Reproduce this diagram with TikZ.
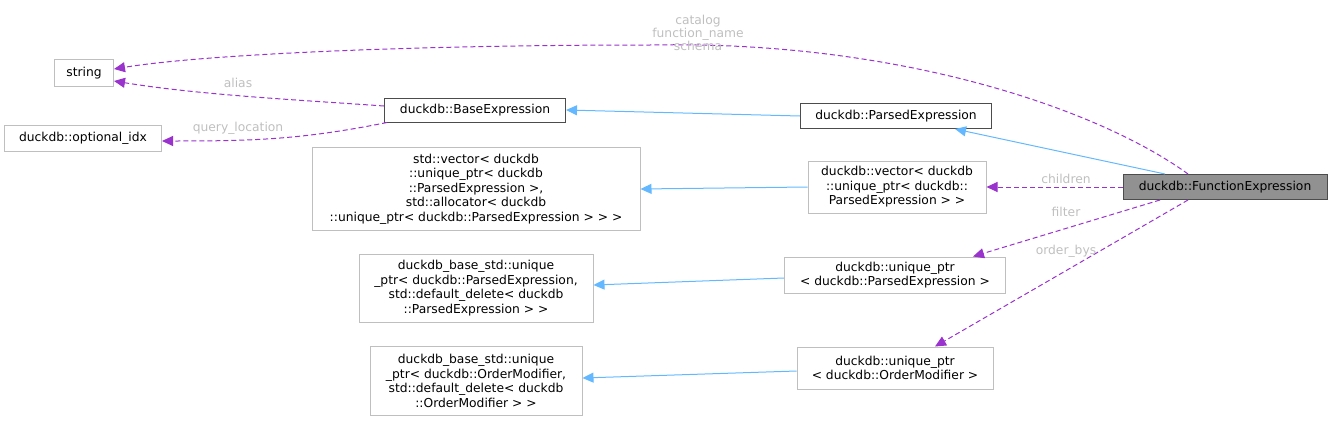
\documentclass[tikz,border=0pt]{standalone}
\usepackage{fontspec}
\setmainfont{DejaVu Sans}
\usetikzlibrary{arrows.meta}
\definecolor{inh}{HTML}{63B8FF}
\definecolor{use}{HTML}{9A32CD}
\definecolor{lbl}{HTML}{BFBFBF}
\begin{document}
\begin{tikzpicture}[x=1pt,y=-1pt,line width=1pt,
  box/.style={draw=#1,fill=white,inner sep=0pt,align=center,font=\fontsize{12.3}{14.6}\selectfont},
  box/.default={lbl},
  inhe/.style={draw=inh,-{Triangle[length=11pt,width=10pt,fill=inh]}},
  usee/.style={draw=use,dash pattern=on 5pt off 3pt,-{Triangle[length=11pt,width=10pt,fill=use]}},
  lab/.style={text=lbl,font=\fontsize{12.3}{13}\selectfont,align=center}]
\useasboundingbox (0,0) rectangle (1332,423);
\node[box,minimum width=59,minimum height=27] (str) at (84,73) {string};
\node[box,minimum width=157,minimum height=26] (opt) at (83,138) {duckdb::optional\_idx};
\node[box=black!70,minimum width=181,minimum height=24] (base) at (475,110) {duckdb::BaseExpression};
\node[box=black!70,minimum width=191,minimum height=25] (pe) at (896,116) {duckdb::ParsedExpression};
\node[box=black!70,fill=black!43,minimum width=204,minimum height=25] (fe) at (1225,187) {duckdb::FunctionExpression};
\node[box,minimum width=328,minimum height=83] (sv) at (476,189) {std::vector< duckdb\\::unique\_ptr< duckdb\\::ParsedExpression >,\\ std::allocator< duckdb\\::unique\_ptr< duckdb::ParsedExpression > > >};
\node[box,minimum width=178,minimum height=52] (dv) at (897,187) {duckdb::vector< duckdb\\::unique\_ptr< duckdb::\\ParsedExpression > >};
\node[box,minimum width=221,minimum height=36] (up) at (895,275) {duckdb::unique\_ptr\\< duckdb::ParsedExpression >};
\node[box,minimum width=234,minimum height=68] (bup) at (476,288) {duckdb\_base\_std::unique\\\_ptr< duckdb::ParsedExpression,\\ std::default\_delete< duckdb\\::ParsedExpression > >};
\node[box,minimum width=196,minimum height=42] (uo) at (895,368) {duckdb::unique\_ptr\\< duckdb::OrderModifier >};
\node[box,minimum width=212,minimum height=69] (buo) at (476,381) {duckdb\_base\_std::unique\\\_ptr< duckdb::OrderModifier,\\ std::default\_delete< duckdb\\::OrderModifier > >};

\draw[inhe] (pe.west) -- (base.east);
\draw[inhe] ([xshift=-60]fe.north) -- ([xshift=59]pe.south);
\draw[inhe] (dv.west) -- (sv.east);
\draw[inhe] ([yshift=-3]up.west) -- ([yshift=3]bup.east);
\draw[inhe] ([yshift=-3]uo.west) -- ([yshift=3]buo.east);

\draw[usee] ([xshift=-37]fe.north) .. controls (1100,110) and (900,40) .. (650,45) .. controls (400,45) and (200,55) .. ([yshift=4]str.east);
\node[lab] at (698,33) {catalog\\function\_name\\schema};
\draw[usee] ([yshift=4]base.west) .. controls (300,100) and (200,95) .. ([yshift=-8]str.east);
\node[lab] at (238,83) {alias};
\draw[usee] ([xshift=3]base.south west) .. controls (300,140) and (250,141) .. ([yshift=-3]opt.east);
\node[lab] at (238,128) {query\_location};
\draw[usee] (fe.west) -- (dv.east);
\node[lab] at (1066,179) {children};
\draw[usee] ([xshift=-65]fe.south) -- ([xshift=78]up.north);
\node[lab] at (1066,212) {filter};
\draw[usee] ([xshift=-37]fe.south) -- ([xshift=40]uo.north);
\node[lab] at (1066,251) {order\_bys};
\end{tikzpicture}
\end{document}
